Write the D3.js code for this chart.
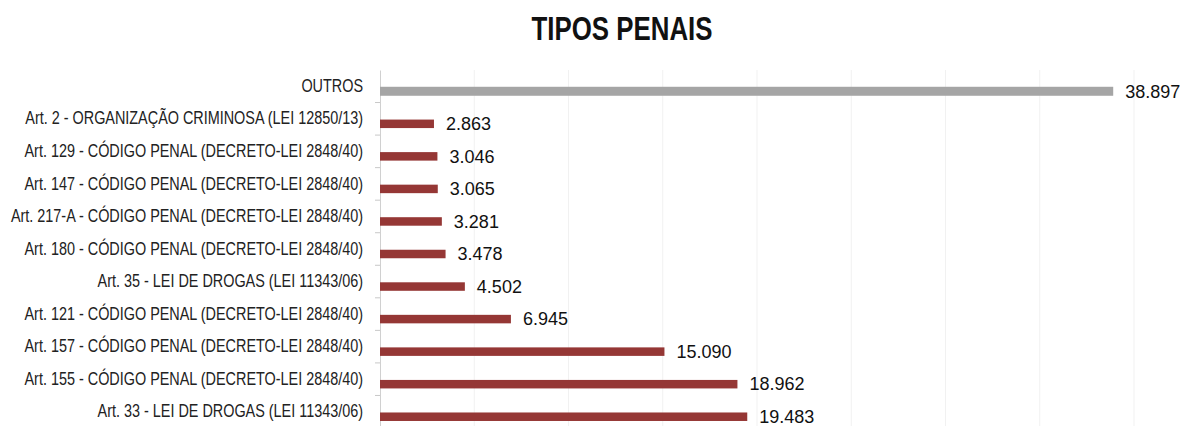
<!DOCTYPE html>
<html>
<head>
<meta charset="utf-8">
<script src="https://cdn.jsdelivr.net/npm/d3@7"></script>
<style>
  body { margin: 0; background: #ffffff; }
  svg { display: block; }
</style>
</head>
<body>
<svg id="chart" width="1187" height="426"></svg>
<script>
// data, top to bottom as in the chart
let categories = [
  'OUTROS',
  'Art. 2 - ORGANIZAÇÃO CRIMINOSA (LEI 12850/13)',
  'Art. 129 - CÓDIGO PENAL (DECRETO-LEI 2848/40)',
  'Art. 147 - CÓDIGO PENAL (DECRETO-LEI 2848/40)',
  'Art. 217-A - CÓDIGO PENAL (DECRETO-LEI 2848/40)',
  'Art. 180 - CÓDIGO PENAL (DECRETO-LEI 2848/40)',
  'Art. 35 - LEI DE DROGAS (LEI 11343/06)',
  'Art. 121 - CÓDIGO PENAL (DECRETO-LEI 2848/40)',
  'Art. 157 - CÓDIGO PENAL (DECRETO-LEI 2848/40)',
  'Art. 155 - CÓDIGO PENAL (DECRETO-LEI 2848/40)',
  'Art. 33 - LEI DE DROGAS (LEI 11343/06)'
];
let values = [38897, 2863, 3046, 3065, 3281, 3478, 4502, 6945, 15090, 18962, 19483];
let valueLabels = ['38.897', '2.863', '3.046', '3.065', '3.281', '3.478', '4.502', '6.945', '15.090', '18.962', '19.483'];
let gridTicks = [0, 5000, 10000, 15000, 20000, 25000, 30000, 35000, 40000];

let svg = d3.select('#chart');
let sans = '"Liberation Sans", Arial, sans-serif';

let x = d3.scaleLinear().domain([0, 40000]).range([380, 1134]);
let y = d3.scaleBand().domain(categories).range([70, 428]).paddingInner(0);
let bw = y.bandwidth();

// title (narrow look: squeeze horizontally)
let title = svg.append('text')
  .attr('text-anchor', 'middle')
  .style('font-family', sans)
  .style('font-weight', 'bold')
  .style('font-size', '34px')
  .style('fill', '#111')
  .text('TIPOS PENAIS');
let tScale = 181 / title.node().getComputedTextLength();
title.attr('transform', `translate(622,40) scale(${tScale},1)`);

// faint gridlines
svg.append('g')
  .selectAll('line')
  .data(gridTicks.slice(1))
  .enter().append('line')
  .attr('x1', d => x(d))
  .attr('x2', d => x(d))
  .attr('y1', 70)
  .attr('y2', 426)
  .style('stroke', '#f1f1f1')
  .style('stroke-width', 1);

// category axis
let yAxis = d3.axisLeft(y).tickSize(0).tickPadding(17);
let gy = svg.append('g')
  .attr('transform', 'translate(380,0)')
  .call(yAxis);
gy.select('.domain').style('stroke', '#d0d0d0');
let labels = gy.selectAll('text')
  .style('font-family', sans)
  .style('font-size', '17.5px')
  .style('fill', '#222');

// squeeze labels like a narrow font, using the Art. 2 label as the reference width
let refWidth = labels.filter(d => d.startsWith('Art. 2 ')).node().getComputedTextLength();
let lScale = 338 / refWidth;
labels
  .attr('x', -17 / lScale)
  .attr('transform', `scale(${lScale},1)`);

// tick marks between categories
svg.append('g')
  .selectAll('line')
  .data(categories)
  .enter().append('line')
  .attr('x1', 375)
  .attr('x2', 380)
  .attr('y1', d => y(d) + bw)
  .attr('y2', d => y(d) + bw)
  .style('stroke', '#c8c8c8');

let rows = categories.map((c, i) => ({ cat: c, value: values[i], label: valueLabels[i] }));

// bars
svg.append('g')
  .selectAll('rect')
  .data(rows)
  .enter().append('rect')
  .attr('x', x(0))
  .attr('y', d => y(d.cat) + bw / 2 + 5 - (d.cat === 'OUTROS' ? 4.5 : 4.25))
  .attr('width', d => x(d.value) - x(0))
  .attr('height', d => d.cat === 'OUTROS' ? 9 : 8.5)
  .style('fill', d => d.cat === 'OUTROS' ? '#a5a5a5' : '#953735');

// value labels
svg.append('g')
  .selectAll('text')
  .data(rows)
  .enter().append('text')
  .attr('x', d => x(d.value) + 12)
  .attr('y', d => y(d.cat) + bw / 2 + 5)
  .attr('dy', '0.35em')
  .style('font-family', sans)
  .style('font-size', '18px')
  .style('fill', '#111')
  .text(d => d.label);
</script>
</body>
</html>
